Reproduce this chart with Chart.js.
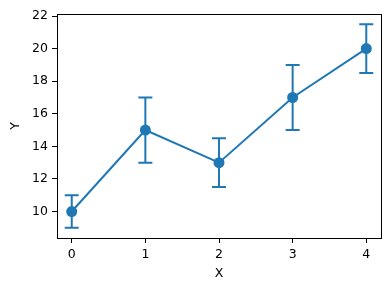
<!DOCTYPE html>
<html>
<head>
<meta charset="utf-8">
<script src="https://cdn.jsdelivr.net/npm/chart.js@4"></script>
<style>
  html, body { margin: 0; padding: 0; background: #fff; }
  #wrap { width: 390px; height: 290px; }
</style>
</head>
<body>
<div id="wrap"><canvas id="chart" width="390" height="290"></canvas></div>
<script>
const xValues = [0, 1, 2, 3, 4];
const yValues = [10, 15, 13, 17, 20];
const yErrors = [1, 2, 1.5, 2, 1.5];
const xTicks = [0, 1, 2, 3, 4];
const yTicks = [10, 12, 14, 16, 18, 20, 22];

const blue = '#1f77b4';
const font = { family: 'DejaVu Sans', size: 12.5 };

// error bars drawn under the markers
const errorBars = {
  id: 'errorBars',
  beforeDatasetsDraw(chart) {
    const c = chart.ctx;
    const xs = chart.scales.x, ys = chart.scales.y;
    c.save();
    c.strokeStyle = blue;
    c.lineWidth = 2;
    xValues.forEach((x, i) => {
      const px = xs.getPixelForValue(x);
      const top = ys.getPixelForValue(yValues[i] + yErrors[i]);
      const bot = ys.getPixelForValue(yValues[i] - yErrors[i]);
      c.beginPath();
      c.moveTo(px, top); c.lineTo(px, bot);
      c.moveTo(px - 7, top); c.lineTo(px + 7, top);
      c.moveTo(px - 7, bot); c.lineTo(px + 7, bot);
      c.stroke();
    });
    c.restore();
  }
};

// full box round the plot area
const frame = {
  id: 'frame',
  afterDraw(chart) {
    const a = chart.chartArea, c = chart.ctx;
    c.save();
    c.strokeStyle = '#000';
    c.lineWidth = 1;
    c.strokeRect(Math.round(a.left) + 0.5, Math.round(a.top) + 0.5,
      Math.round(a.right - a.left), Math.round(a.bottom - a.top));
    c.restore();
  }
};

new Chart(document.getElementById('chart').getContext('2d'), {
  type: 'line',
  data: {
    datasets: [{
      data: xValues.map((x, i) => ({ x: x, y: yValues[i] })),
      borderColor: blue,
      backgroundColor: blue,
      borderWidth: 2,
      pointRadius: 5.5,
      pointBorderWidth: 0,
      pointBackgroundColor: blue,
      tension: 0
    }]
  },
  options: {
    responsive: false,
    animation: false,
    layout: { padding: { left: 0, right: 9, top: 14, bottom: 0 } },
    plugins: { legend: { display: false }, tooltip: { enabled: false } },
    scales: {
      x: {
        type: 'linear',
        min: -0.2,
        max: 4.2,
        afterBuildTicks: s => { s.ticks = xTicks.map(v => ({ value: v })); },
        afterFit: s => { s.height = 52; },
        grid: { drawOnChartArea: false, tickLength: 5, color: '#000' },
        border: { display: true, color: '#000' },
        ticks: { color: '#000', font: font, padding: 4, maxRotation: 0 },
        title: { display: true, text: 'X', color: '#000', font: font, padding: { top: 2, bottom: 9 } }
      },
      y: {
        min: 8.375,
        max: 22.125,
        afterBuildTicks: s => { s.ticks = yTicks.map(v => ({ value: v })); },
        afterFit: s => { s.width = 57; },
        grid: { drawOnChartArea: false, tickLength: 5, color: '#000' },
        border: { display: true, color: '#000' },
        ticks: { color: '#000', font: font, padding: 4 },
        title: { display: true, text: 'Y', color: '#000', font: font, padding: { top: 8, bottom: 6 } }
      }
    }
  },
  plugins: [errorBars, frame]
});
</script>
</body>
</html>
